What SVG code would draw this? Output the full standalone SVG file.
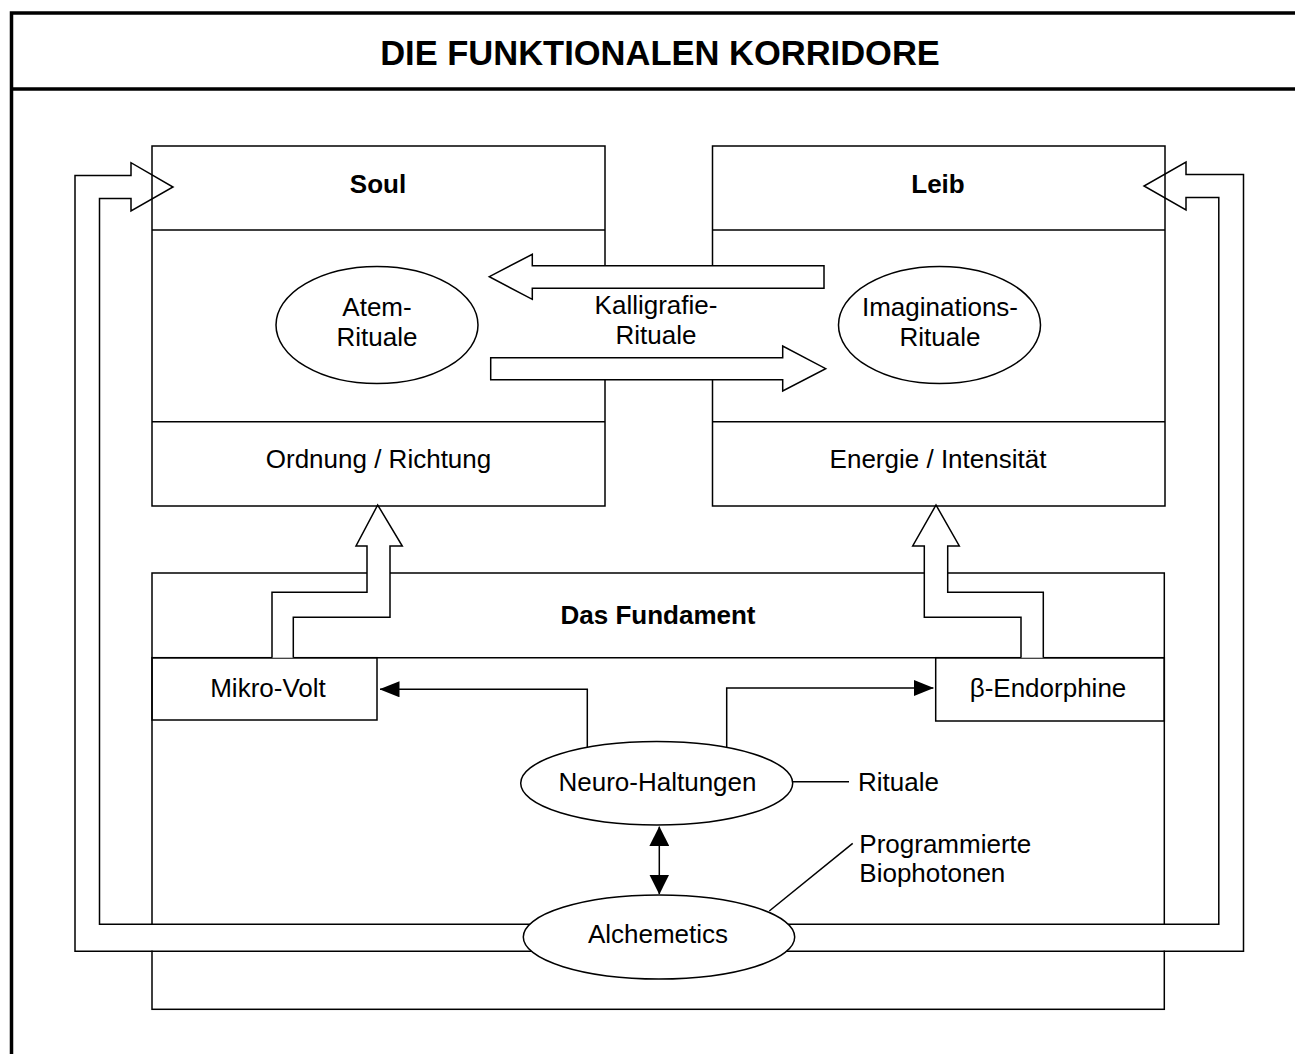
<svg xmlns="http://www.w3.org/2000/svg" width="1295" height="1054" viewBox="0 0 1295 1054">
<defs>
<style>
.ln{fill:none;stroke:#000;stroke-width:1.5}
.wf{fill:#fff;stroke:#000;stroke-width:1.5;stroke-linejoin:miter}
.t{font-family:"Liberation Sans",Arial,sans-serif;font-size:26px;fill:#000}
.c{text-anchor:middle}
.b{font-weight:bold}
</style>
<marker id="ah" markerUnits="userSpaceOnUse" viewBox="0 0 20 16" refX="19.5" refY="8" markerWidth="20" markerHeight="16" orient="auto-start-reverse"><path d="M0,0 L20,8 L0,16 Z" fill="#000"/></marker>
<marker id="ah2" markerUnits="userSpaceOnUse" viewBox="0 0 20 20" refX="19.5" refY="10" markerWidth="20" markerHeight="20" orient="auto-start-reverse"><path d="M0,0 L20,10 L0,20 Z" fill="#000"/></marker>
</defs>
<rect width="1295" height="1054" fill="#fff"/>
<g id="frame">
<rect x="11.5" y="13" width="1300" height="1060" fill="none" stroke="#000" stroke-width="3.5"/>
<line x1="11.5" y1="89" x2="1300" y2="89" stroke="#000" stroke-width="3.5"/>
<text class="t c b" x="660" y="64.5" style="font-size:34.5px">DIE FUNKTIONALEN KORRIDORE</text>
</g>
<g id="node-soul">
<rect class="ln" x="152" y="146" width="453" height="360"/>
<line class="ln" x1="152" y1="230" x2="605" y2="230"/>
<line class="ln" x1="152" y1="421.8" x2="605" y2="421.8"/>
<text class="t c b" x="378" y="193">Soul</text>
<text class="t c" x="378.5" y="468">Ordnung / Richtung</text>
</g>
<g id="node-leib">
<rect class="ln" x="712.5" y="146" width="452.5" height="360"/>
<line class="ln" x1="712.5" y1="230" x2="1165" y2="230"/>
<line class="ln" x1="712.5" y1="421.8" x2="1165" y2="421.8"/>
<text class="t c b" x="938" y="193">Leib</text>
<text class="t c" x="938" y="468">Energie / Intensität</text>
</g>
<g id="node-atem">
<ellipse class="wf" cx="377" cy="325" rx="101" ry="58.6"/>
<text class="t c" x="377" y="316">Atem-</text>
<text class="t c" x="377" y="346">Rituale</text>
</g>
<g id="node-imagination">
<ellipse class="wf" cx="939.5" cy="325" rx="101" ry="58.6"/>
<text class="t c" x="940" y="316">Imaginations-</text>
<text class="t c" x="940" y="346">Rituale</text>
</g>
<g id="node-fundament">
<rect class="ln" x="152" y="573" width="1012.3" height="436.3"/>
<line class="ln" x1="152" y1="657.7" x2="1164.3" y2="657.7"/>
<text class="t c b" x="658" y="624">Das Fundament</text>
</g>
<g id="node-mikrovolt">
<rect class="ln" x="152" y="657.7" width="225" height="62.3"/>
<text class="t c" x="268" y="696.7">Mikro-Volt</text>
</g>
<g id="node-endorphine">
<rect class="ln" x="935.7" y="657.7" width="228.6" height="63.3"/>
<text class="t c" x="1048" y="696.7">β-Endorphine</text>
</g>
<g id="connectors">
<rect x="560" y="280" width="200" height="85" fill="#fff"/>
<text class="t c" x="656" y="314">Kalligrafie-</text>
<text class="t c" x="656" y="343.5">Rituale</text>
<path class="wf" d="M824,265.7 L532.3,265.7 L532.3,254.3 L489.3,276.7 L532.3,299.3 L532.3,288.3 L824,288.3 Z"/>
<path class="wf" d="M490.7,357.7 L782.7,357.7 L782.7,346 L825.7,368.7 L782.7,391 L782.7,379.7 L490.7,379.7 Z"/>
<path class="wf" d="M272,657.7 L272,592.3 L367,592.3 L367,546 L356,546 L377.7,505 L402.3,546 L390,546 L390,617.3 L293.3,617.3 L293.3,657.7"/>
<path class="wf" d="M1043.3,657.7 L1043.3,592.3 L947.7,592.3 L947.7,546 L959.3,546 L936,505 L912.7,546 L924.3,546 L924.3,617.3 L1021,617.3 L1021,657.7"/>
<rect x="76" y="924.6" width="1167" height="26" fill="#fff"/>
<path class="ln" d="M600,951.3 L75,951.3 L75,175.5 L131,175.5 L131,162.7 L173,187 L131,211 L131,198.5 L99.5,198.5 L99.5,924.3 L600,924.3"/>
<path class="ln" d="M720,951.3 L1243.5,951.3 L1243.5,174.5 L1186,174.5 L1186,162 L1144,186 L1186,210 L1186,197.5 L1218.8,197.5 L1218.8,924.3 L720,924.3"/>
<polyline class="ln" points="587.3,760 587.3,689.3 380,689.3" marker-end="url(#ah)"/>
<polyline class="ln" points="726.7,760 726.7,688 933.3,688" marker-end="url(#ah)"/>
<line class="ln" x1="659.3" y1="826.7" x2="659.3" y2="894" marker-start="url(#ah2)" marker-end="url(#ah2)"/>
<line class="ln" x1="792.7" y1="781.7" x2="849" y2="781.7"/>
<line class="ln" x1="769.3" y1="911" x2="852.7" y2="843.3"/>
</g>
<g id="node-neuro">
<ellipse class="wf" cx="656.7" cy="783.3" rx="136" ry="41.7"/>
<text class="t c" x="657.5" y="790.7">Neuro-Haltungen</text>
</g>
<g id="node-alchemetics">
<ellipse class="wf" cx="659" cy="937" rx="135.7" ry="42"/>
<text class="t c" x="658" y="943.3">Alchemetics</text>
</g>
<g id="labels">
<text class="t" x="858" y="791">Rituale</text>
<text class="t" x="859.3" y="853">Programmierte</text>
<text class="t" x="859.3" y="882">Biophotonen</text>
</g>
</svg>
